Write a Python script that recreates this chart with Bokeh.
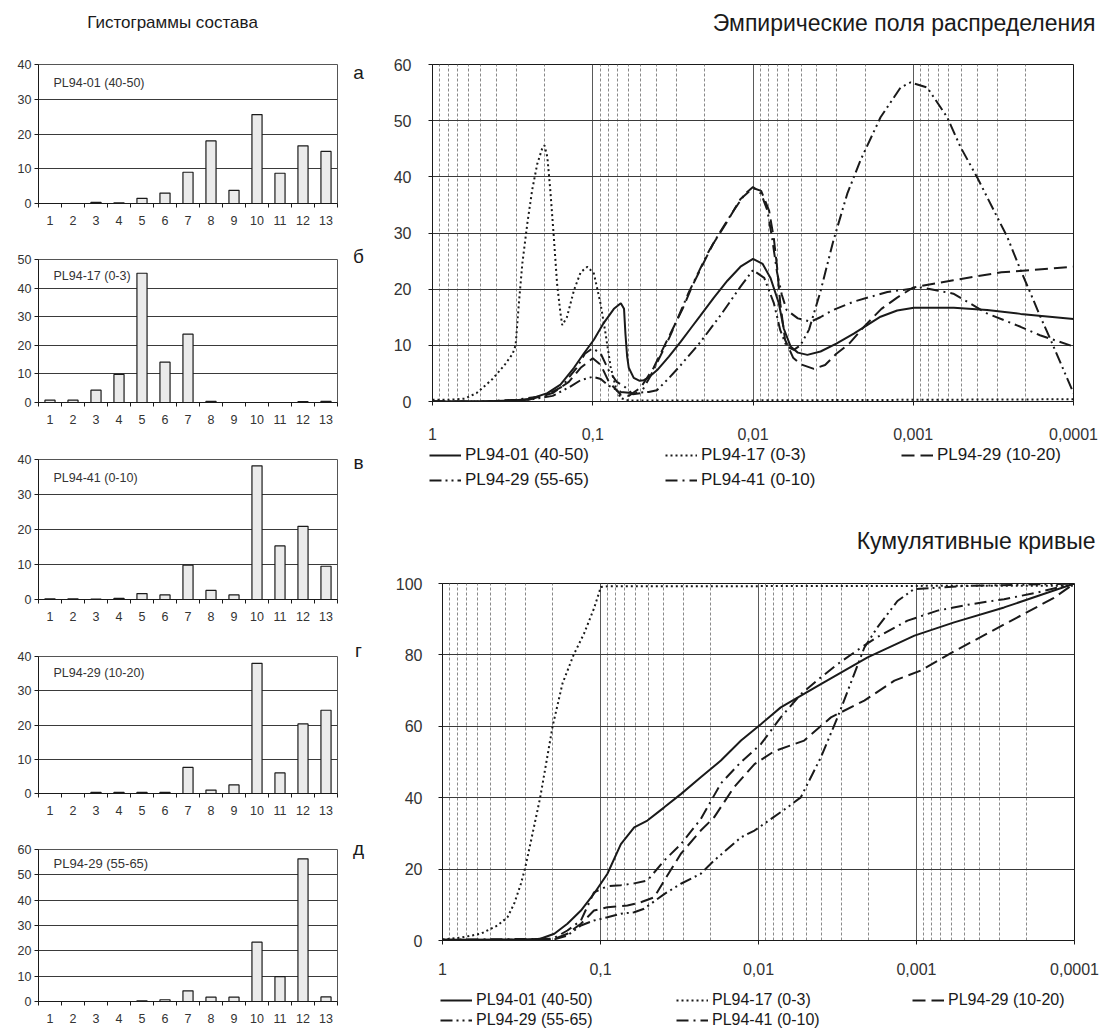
from bokeh.plotting import figure
from bokeh.models import (Range1d, FixedTicker, Label, Legend, LegendItem,
                          CustomJSTickFormatter, ColumnDataSource)
from bokeh.core.properties import value
from bokeh.layouts import row, column
from bokeh.embed import file_html
from bokeh.resources import INLINE

FONT = "Liberation Sans"
INK = "#1a1a1a"
TXT = "#333333"
NAN = float("nan")

# ---------------- histogram data (classes 1..13, %) ----------------
classes = list(range(1, 14))
hist_names = ["PL94-01 (40-50)", "PL94-17 (0-3)", "PL94-41 (0-10)",
              "PL94-29 (10-20)", "PL94-29 (55-65)"]
hist_letters = ["а", "б", "в", "г", "д"]
hist_ymax = [40, 50, 40, 40, 60]
hist_01 = [0, 0, 0.3, 0.2, 1.5, 3, 9, 18, 3.8, 25.6, 8.7, 16.6, 15]
hist_17 = [0.8, 0.8, 4.3, 9.8, 45.2, 14.1, 23.9, 0.4, 0, 0, 0, 0.3, 0.4]
hist_41 = [0.2, 0.2, 0.1, 0.3, 1.7, 1.3, 9.8, 2.6, 1.3, 38.2, 15.3, 20.9, 9.5]
hist_29a = [0, 0, 0.3, 0.3, 0.3, 0.3, 7.6, 1, 2.5, 38, 6, 20.3, 24.3]
hist_29b = [0, 0, 0, 0, 0.3, 0.7, 4.2, 1.7, 1.7, 23.4, 9.8, 56.3, 1.8]

# ---------------- curves: grain size (mm) vs % ----------------
size_ticks = [1, 0.1, 0.01, 0.001, 0.0001]
series_names = ["PL94-01 (40-50)", "PL94-17 (0-3)", "PL94-29 (10-20)",
                "PL94-29 (55-65)", "PL94-41 (0-10)"]

# empirical distribution (frequency)
f01_size = [1.0, 0.5, 0.31, 0.244, 0.192, 0.159, 0.131, 0.114, 0.0984, 0.0853, 0.0738, 0.0668,
            0.0638, 0.0625, 0.061, 0.0596, 0.0555, 0.0513, 0.048, 0.0447, 0.0396, 0.0335, 0.0283,
            0.0245, 0.0213, 0.01754, 0.01445, 0.01197, 0.01, 0.0087, 0.00778, 0.0069, 0.00643,
            0.00583, 0.00525, 0.00458, 0.00379, 0.00302, 0.00235, 0.0016, 0.00126, 0.00099,
            0.000558, 0.000346, 0.000214, 0.0001]
f01_pct = [0, 0, 0.2, 0.5, 1.5, 3, 6, 8.5, 11, 14, 16.5, 17.5, 16.5, 12, 8, 6, 4.2, 3.7, 3.8, 4.3,
           5.6, 8, 10.6, 13, 15.3, 18.5, 21.5, 24, 25.4, 24.5, 22, 17.5, 13, 9.8, 8.7, 8.3, 8.9,
           10.3, 12.1, 15.1, 16.2, 16.7, 16.7, 16.3, 15.6, 14.7]

f17_size = [1.0, 0.794, 0.631, 0.531, 0.422, 0.355, 0.316, 0.303, 0.289, 0.275, 0.256, 0.239,
            0.222, 0.207, 0.2, 0.192, 0.184, 0.175, 0.167, 0.159, 0.155, 0.145, 0.131, 0.119,
            0.108, 0.0984, 0.0895, 0.0832, 0.0774, 0.0721, 0.0671, 0.06, 0.03, 0.01, 0.001, 0.0001]
f17_pct = [0.3, 0.3, 0.5, 1.5, 4, 6.5, 8.5, 10, 17.5, 24.6, 31.7, 37.6, 42.3, 45, 45.6, 43.5,
           37.6, 29.3, 21, 15.7, 13.6, 15, 19.8, 23, 24, 22.8, 17.5, 12.1, 6.2, 2.7, 0.6, 0.2,
           0.2, 0.2, 0.3, 0.4]

f29a_size = [1.0, 0.4, 0.251, 0.178, 0.141, 0.119, 0.1, 0.0891, 0.0794, 0.0668, 0.0596, 0.0501,
             0.0417, 0.0363, 0.0316, 0.0275, 0.024, 0.0209, 0.0178, 0.0145, 0.012, 0.01, 0.0089,
             0.00794, 0.00741, 0.00708, 0.00676, 0.00631, 0.00562, 0.00501, 0.00417, 0.00355,
             0.00302, 0.00251, 0.002, 0.00158, 0.00126, 0.001, 0.000562, 0.000282, 0.0001]
f29a_pct = [0, 0, 0.3, 1.5, 3.5, 6, 7.7, 6.5, 3.5, 1.2, 1, 2.5, 6, 9.5, 13, 16.5, 20.5, 24, 28,
            32, 36, 38, 37.5, 34, 29, 24, 17.5, 11, 7.8, 6.6, 5.8, 6.5, 8.5, 10.3, 13.5, 16.5,
            18.5, 20.3, 21.6, 23, 24]

f29b_size = [1.0, 0.4, 0.251, 0.178, 0.141, 0.119, 0.1, 0.0891, 0.0794, 0.0668, 0.0562, 0.0447,
             0.0398, 0.0339, 0.0282, 0.0214, 0.0158, 0.012, 0.01, 0.00851, 0.00741, 0.00676,
             0.00617, 0.00556, 0.00506, 0.00447, 0.0038, 0.00316, 0.00258, 0.00213, 0.0016,
             0.0012, 0.00104, 0.000818, 0.000614, 0.000507, 0.000399, 0.000314, 0.000259,
             0.000214, 0.000185, 0.000161, 0.000139, 0.0001]
f29b_pct = [0, 0, 0.3, 1, 2.5, 3.8, 4.4, 4, 2.8, 1.7, 1.5, 1.7, 2, 4, 6.5, 10.5, 15.5, 20.4, 23.4,
            22, 17.5, 12.7, 9.8, 9.2, 10, 12.8, 19.5, 28.5, 37, 43, 50.6, 55.9, 56.8, 55.9, 50.6,
            45.3, 39.9, 34, 29.3, 23.4, 19.2, 15.1, 11, 1.5]

f41_size = [1.0, 0.5, 0.302, 0.2, 0.158, 0.126, 0.112, 0.1, 0.0891, 0.0794, 0.0708, 0.0631,
            0.0562, 0.0501, 0.0437, 0.038, 0.0331, 0.0288, 0.0251, 0.0219, 0.0191, 0.0158, 0.0132,
            0.0112, 0.01, 0.0089, 0.00813, 0.00759, 0.00708, 0.00661, 0.00617, 0.00525, 0.00437,
            0.0038, 0.00316, 0.00234, 0.00145, 0.00089, 0.000562, 0.000347, 0.000214, 0.000162,
            0.0001]
f41_pct = [0, 0, 0.3, 1, 2.5, 6, 8.5, 9.5, 8.5, 5.5, 3.5, 2.6, 1.3, 1.5, 4.5, 8, 11.5, 15.5, 19.5,
           23, 26.5, 30.5, 34, 37, 38.2, 37, 34, 29, 23, 19, 16.3, 14.8, 14.2, 15, 16.3, 17.8,
           19.5, 20.3, 19.2, 15.7, 13.3, 11.8, 9.8]

# cumulative curves
c01_size = [1.0, 0.3, 0.24, 0.196, 0.162, 0.133, 0.11, 0.0904, 0.0743, 0.0612, 0.0505, 0.0395,
            0.031, 0.0232, 0.0173, 0.0129, 0.00966, 0.00723, 0.00403, 0.00204, 0.00103, 0.000578,
            0.000279, 0.0001]
c01_pct = [0.2, 0.3, 0.5, 1.9, 4.7, 8.4, 13.1, 18.7, 27, 31.7, 33.6, 37.3, 41, 45.7, 50.4, 56,
           60.6, 65.3, 71.8, 79.3, 85.4, 89.1, 93.3, 100]

c17_size = [1.0, 0.766, 0.572, 0.449, 0.388, 0.352, 0.319, 0.301, 0.269, 0.241, 0.22, 0.201,
            0.174, 0.148, 0.127, 0.11, 0.0995, 0.09, 0.0001]
c17_pct = [0.3, 0.8, 1.9, 4.2, 6.5, 10.3, 15.9, 20, 30, 40, 50, 60, 72, 80, 86, 93, 99, 99.2, 99.4]

c29a_size = [1.0, 0.2, 0.162, 0.133, 0.11, 0.0904, 0.0675, 0.0556, 0.0457, 0.0395, 0.031, 0.0232,
             0.0191, 0.0143, 0.0106, 0.00796, 0.00514, 0.00348, 0.00214, 0.00138, 0.00094,
             0.000578, 0.000356, 0.000219, 0.000135, 0.0001]
c29a_pct = [0, 0.3, 1.9, 4.7, 8.4, 9.3, 9.8, 10.7, 12.1, 16.8, 24.3, 30.8, 34.5, 42.9, 49.4, 53,
            56, 62.5, 67.2, 72.8, 75.6, 81, 86, 91, 96, 100]

c29b_size = [1.0, 0.2, 0.162, 0.133, 0.11, 0.0904, 0.0743, 0.0612, 0.053, 0.0395, 0.031, 0.0232,
             0.0191, 0.0129, 0.0106, 0.00655, 0.0054, 0.00403, 0.00316, 0.00248, 0.00214,
             0.00177, 0.00132, 0.00104, 0.0005, 0.0001]
c29b_pct = [0, 0.2, 1.4, 4.2, 5.6, 6.5, 7.5, 7.9, 8.9, 13, 15.9, 18.7, 22.4, 28.9, 30.8, 37.3,
            40.1, 51.3, 62.5, 74.6, 82, 87.7, 95.1, 98.4, 99.3, 100]

c41_size = [1.0, 0.2, 0.162, 0.133, 0.11, 0.0904, 0.0743, 0.0612, 0.0505, 0.0395, 0.031, 0.0232,
            0.0173, 0.0129, 0.00966, 0.00723, 0.0054, 0.00403, 0.00316, 0.00225, 0.00177,
            0.00114, 0.000736, 0.000453, 0.000279, 0.000171, 0.0001]
c41_pct = [0.2, 0.5, 2.8, 5.6, 13.5, 15.2, 15.5, 16, 16.8, 22.4, 27, 34, 44, 50, 55, 62.5, 69,
           73.7, 77.4, 82, 85, 89.6, 92.4, 94.2, 95.6, 97.5, 100]

# ---------------- styles / layout ----------------
line_styles = [
    dict(line_dash="solid", line_width=2),
    dict(line_dash="2 3", line_width=2),
    dict(line_dash="13 6", line_width=2),
    dict(line_dash="12 4 2 4 2 4", line_width=2),
    dict(line_dash="12 5 2 5", line_width=2),
]
# (height, border_top, border_bottom, name_y, letter_y_in_fig, name_font)
hist_layout = [
    (186, 19, 28, 121, 27, "12.5px"),
    (199, 28, 28, 127, 25, "12.5px"),
    (197, 29, 28, 122, 32, "12.5px"),
    (194, 29, 28, 121, 23, "12.5px"),
    (209, 28, 29, 138, 27, "13px"),
]


def fig(**kw):
    p = figure(output_backend="svg", toolbar_location=None, **kw)
    p.frame_align = False
    return p


def blank(width, height):
    p = fig(width=width, height=height, x_range=Range1d(0, width), y_range=Range1d(height, 0),
            x_axis_location=None, y_axis_location=None,
            min_border=0, min_border_left=0, min_border_right=0,
            min_border_top=0, min_border_bottom=0)
    p.grid.visible = False
    p.outline_line_color = None
    return p


def text_in(p, x, y, txt, size, align="left"):
    p.text(x=[x], y=[y], text=[txt], text_font=value(FONT), text_font_size=value(size),
           text_color=INK, text_align=align, text_baseline="middle")


def make_hist(values, ymax, name, lay):
    h, bt, bb, name_y, _, name_fs = lay
    p = fig(width=345, height=h, x_range=Range1d(0.5, 13.5), y_range=Range1d(0, ymax),
            min_border_left=38, min_border_right=8, min_border_top=bt, min_border_bottom=bb)
    src = ColumnDataSource(dict(x=classes, top=values))
    p.vbar(x="x", top="top", width=0.44, source=src, fill_color="#ebebeb",
           line_color=INK, line_width=1.2)
    p.xaxis.ticker = FixedTicker(ticks=classes, minor_ticks=[c - 0.5 for c in classes] + [13.5])
    p.xaxis.major_tick_out = 0
    p.xaxis.major_tick_in = 0
    p.xaxis.minor_tick_out = 4
    p.xaxis.minor_tick_in = 0
    p.xaxis.minor_tick_line_color = INK
    p.xaxis.major_label_standoff = 8
    p.yaxis.ticker = FixedTicker(ticks=list(range(0, ymax + 1, 10)))
    p.yaxis.major_tick_out = 4
    p.yaxis.major_tick_in = 0
    p.yaxis.minor_tick_line_color = None
    p.yaxis.major_label_standoff = 3
    for ax in (p.xaxis, p.yaxis):
        ax.axis_line_color = INK
        ax.major_tick_line_color = INK
        ax.major_label_text_font = FONT
        ax.major_label_text_font_size = "12.5px"
        ax.major_label_text_color = TXT
    p.xgrid.grid_line_color = None
    p.ygrid.grid_line_color = "#3a3a3a"
    p.ygrid.grid_line_width = 1
    p.outline_line_color = "#555555"
    p.add_layout(Label(x=15, y=name_y, x_units="screen", y_units="screen", text=name,
                       text_font=FONT, text_font_size=name_fs, text_color=TXT,
                       text_baseline="middle"))
    return p


hist_values = [hist_01, hist_17, hist_41, hist_29a, hist_29b]
left_items = []
ht = blank(380, 45)
text_in(ht, 172, 22, "Гистограммы состава", "17px", "center")
left_items.append(ht)
for i in range(5):
    hp = make_hist(hist_values[i], hist_ymax[i], hist_names[i], hist_layout[i])
    lp = blank(35, hist_layout[i][0])
    text_in(lp, 13, hist_layout[i][4], hist_letters[i], "19px", "center")
    left_items.append(row(hp, lp, spacing=0))

minor_sizes = [m * b for b in size_ticks[1:] for m in range(2, 10)]


def make_curves(width, height, borders, ymax, ystep, series, xstandoff, ystandoff):
    bl, br, bt, bb = borders
    p = fig(width=width, height=height, x_axis_type="log", x_range=Range1d(1, 0.0001),
            y_range=Range1d(0, ymax),
            min_border_left=bl, min_border_right=br, min_border_top=bt, min_border_bottom=bb)
    for (sx, sy), st in zip(series, line_styles):
        p.line(x=sx, y=sy, line_color=INK, **st)
    p.xaxis.ticker = FixedTicker(ticks=size_ticks, minor_ticks=minor_sizes)
    p.xaxis.formatter = CustomJSTickFormatter(code="return tick.toString().replace('.', ',');")
    p.xaxis.major_label_standoff = xstandoff
    p.xaxis.major_tick_out = 4
    p.xaxis.major_tick_in = 0
    p.xaxis.minor_tick_line_color = None
    p.yaxis.ticker = FixedTicker(ticks=list(range(0, ymax + 1, ystep)))
    p.yaxis.major_label_standoff = ystandoff
    p.yaxis.major_tick_out = 4
    p.yaxis.major_tick_in = 0
    p.yaxis.minor_tick_line_color = None
    for ax in (p.xaxis, p.yaxis):
        ax.axis_line_color = INK
        ax.major_tick_line_color = INK
        ax.major_label_text_font = FONT
        ax.major_label_text_font_size = "16px"
        ax.major_label_text_color = TXT
    p.ygrid.grid_line_color = "#3a3a3a"
    p.ygrid.grid_line_width = 1
    p.xgrid.grid_line_color = "#5a5a5a"
    p.xgrid.grid_line_width = 1
    p.xgrid.minor_grid_line_color = "#8a8a8a"
    p.xgrid.minor_grid_line_dash = "3 2"
    p.xgrid.minor_grid_line_width = 1
    p.outline_line_color = INK
    return p


def make_legend(width, height, gh, sp, lw, fs, loc):
    p = blank(width, height)
    items = []
    for name, st in zip(series_names, line_styles):
        r = p.line(x=[NAN, NAN], y=[NAN, NAN], line_color=INK, **st)
        items.append(LegendItem(label=name, renderers=[r]))
    leg = Legend(items=items, location=loc, orientation="horizontal", ncols=3,
                 glyph_width=32, glyph_height=gh, label_height=gh, label_width=lw,
                 label_standoff=4, spacing=sp, padding=0, margin=0,
                 border_line_color=None, background_fill_alpha=0,
                 label_text_font=FONT, label_text_font_size=fs, label_text_color=INK)
    p.add_layout(leg, "center")
    return p


t1 = blank(722, 45)
text_in(t1, 715, 22, "Эмпирические поля распределения", "23px", "right")

top = make_curves(722, 397, (52, 29, 19, 40), 60, 10,
                  [(f01_size, f01_pct), (f17_size, f17_pct), (f29a_size, f29a_pct),
                   (f29b_size, f29b_pct), (f41_size, f41_pct)], 22, 17)

lg1 = make_legend(722, 58, 20, 5, 195, "17px", (49, 10))

t2 = blank(722, 60)
text_in(t2, 715, 40, "Кумулятивные кривые", "23px", "right")

bottom = make_curves(722, 420, (62, 28, 23, 40), 100, 20,
                     [(c01_size, c01_pct), (c17_size, c17_pct), (c29a_size, c29a_pct),
                      (c29b_size, c29b_pct), (c41_size, c41_pct)], 18, 16)

lg2 = make_legend(722, 50, 16, 2, 198, "16px", (60, 1))

layout = row(column(*left_items, spacing=0),
             column(t1, top, lg1, t2, bottom, lg2, spacing=0), spacing=0)

open("out.html", "w").write(file_html(layout, INLINE))
